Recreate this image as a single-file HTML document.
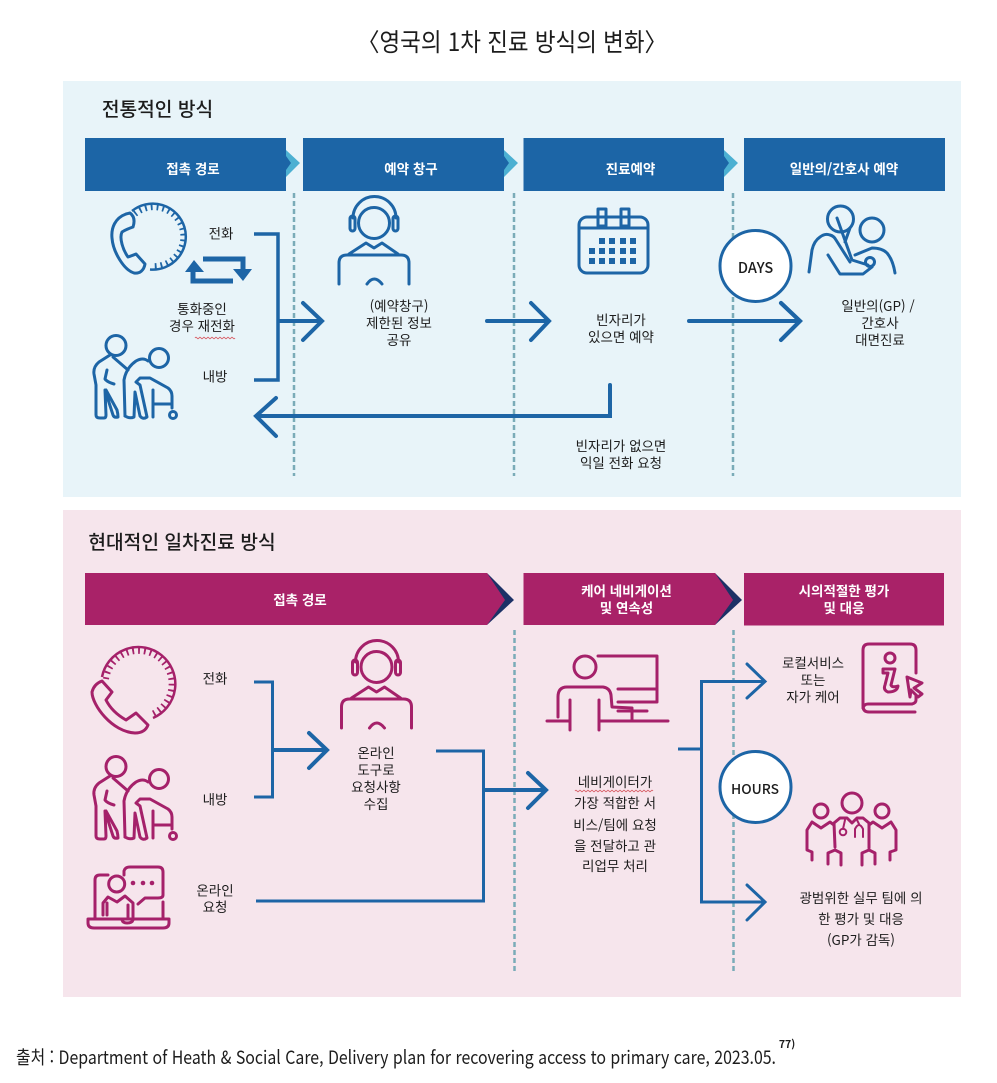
<!DOCTYPE html>
<html lang="ko"><head><meta charset="utf-8"><title>영국의 1차 진료 방식의 변화</title>
<style>
html,body{margin:0;padding:0;background:#fff}
svg{display:block}
text{font-family:"Noto Sans CJK KR","Liberation Sans",sans-serif;fill:#1c1c1c;font-size:13.5px;text-anchor:middle}
.h{fill:#fff;font-weight:700;font-size:13.5px}
.ib,.ip{fill:none;stroke-width:3;stroke-linecap:round;stroke-linejoin:round}
.ib{stroke:#1d65a6}.ip{stroke:#a5216a}
.c{fill:none;stroke:#1d65a6;stroke-linejoin:miter}
.d{stroke:#7aabb8;stroke-width:2.500;stroke-dasharray:5 3}
.t{font-size:19.200px;font-weight:500}
</style></head><body>
<svg width="997" height="1083" viewBox="0 0 997 1083" xmlns="http://www.w3.org/2000/svg">
<defs>
<g id="agent">
<circle cx="374" cy="223" r="15.500"/>
<path d="M353 218A21.500 21.500 0 0 1 396 218"/>
<rect x="350" y="216" width="5" height="15" rx="2.500"/><rect x="393" y="216" width="5" height="15" rx="2.500"/>
<path d="M349 254L366 243L374 248L382 243L398 254"/>
<path d="M339 284V263Q339 255 347 255H401Q409 255 409 263V284"/>
<path d="M367 284Q374 274 382 284"/>
</g>
<g id="elder">
<circle cx="116" cy="345.500" r="10"/><circle cx="159" cy="358" r="9.500"/>
<path d="M110 355L99 362Q93 367 94 374L96 385V415Q96 418 100 418H104Q106 418 106 415L105 390L113 415Q114 418 118 417Q118 414 117 410L106 390"/>
<path d="M107 370L105 379Q107 382 114 384M113 357L128 370"/>
<path d="M125 416L124 380Q126 368 136 361Q143 357 148 361"/>
<path d="M125 416Q130 419 134 417L135 392L140 416Q143 420 147 417L140 385L136 382L140 378H150L168 388Q172 391 172 396V408"/>
<path d="M153 390V417M153 404H172"/>
<circle cx="173" cy="415" r="3.500"/>
</g>
</defs>

<rect x="63" y="81" width="898" height="416" fill="#e8f4f9"/>
<rect x="63" y="510" width="898" height="487" fill="#f6e5ec"/>

<text x="512" y="51" style="font-size:25px" textLength="310" lengthAdjust="spacingAndGlyphs">〈영국의 1차 진료 방식의 변화〉</text>
<text class="t" x="157.500" y="116">전통적인 방식</text>
<text class="t" x="182" y="549">현대적인 일차진료 방식</text>

<!-- blue headers -->
<g fill="#4cb0d2"><path d="M286 150L300 163L286 177ZM504 150L518 163L504 177ZM724 150L738 163L724 177Z"/></g>
<g fill="#1c65a6">
<rect x="85" y="138" width="201" height="53"/><rect x="303" y="138" width="201" height="53"/><rect x="523.500" y="138" width="200.500" height="53"/><rect x="744" y="138" width="201" height="53"/>
<path d="M286 156L291 163L286 170ZM504 156L509 163L504 170ZM724 156L729 163L724 170Z"/>
</g>
<text class="h" x="193" y="174">접촉 경로</text><text class="h" x="411" y="174">예약 창구</text><text class="h" x="630.500" y="174">진료예약</text><text class="h" x="844" y="174">일반의/간호사 예약</text>

<!-- dashed -->
<path class="d" d="M294 193V476M514 193V476M733 193V476M514.500 630V971M733.500 630V971"/>

<!-- blue section connectors -->
<g class="c" stroke-width="3.500"><path d="M254 234H278V380H254"/></g>
<g class="c" stroke-width="4">
<path d="M278 321H320"/><path stroke-linecap="round" d="M303 303L322 321L303 340"/>
<path stroke-linecap="round" d="M487 321H547M531 303L549 321L531 340"/>
<path stroke-linecap="round" d="M689 321H798M781 303L800 321L781 340"/>
<path stroke-linecap="round" d="M610 385V416H258M276 398L256 416L276 436"/>
</g>
<!-- repeat arrows -->
<g fill="none" stroke="#1d65a6" stroke-width="5"><path d="M203 259H243V272M233 281H193V268"/></g>
<g fill="#1d65a6"><path d="M233 269L243 281L252 269ZM185 272L194 260L204 272Z"/></g>

<!-- blue icons -->
<g class="ib">
<path d="M132 211A33 33 0 1 1 150 269.500" stroke-width="2.500" stroke-linecap="butt"/>
<path d="M135 214A29.500 29.500 0 1 1 151 266" stroke-width="6" stroke-linecap="butt" stroke-dasharray="1.800 4"/>
<path d="M126 214C115 218 111 228 112 238C113 252 124 270 134 273C140 274 144 270 145 264L136 254Q131 256 128 257C123 250 119 238 122 232Q127 229 133 227C135 221 134 216 130 213Z"/>
<use href="#agent"/><use href="#elder"/>
<rect x="579" y="217" width="69" height="56" rx="8"/><path d="M579 228H648"/>
<rect x="598" y="209" width="8" height="17"/><rect x="621" y="209" width="8" height="17"/>
<circle cx="840.500" cy="219" r="13"/><circle cx="872" cy="230" r="12"/>
<path d="M809 272L812 250Q814 241 820 237Q825 233 830 235Q834 236 836 240L850 262"/>
<path d="M837 218L852 260L868 265M850 228L845 242"/>
<path d="M828 255L840 274H863L872 267"/>
<circle cx="870" cy="262" r="4.500"/>
<path d="M855 255L872 248Q882 248 887 253Q893 260 895 273"/>
</g>
<g fill="#1d65a6">
<path d="M599 238h6v6h-6zM609 238h6v6h-6zM620 238h6v6h-6zM630 238h6v6h-6zM589 248h6v6h-6zM599 248h6v6h-6zM609 248h6v6h-6zM620 248h6v6h-6zM630 248h6v6h-6zM589 258h6v6h-6zM599 258h6v6h-6zM609 258h6v6h-6zM620 258h6v6h-6zM630 258h6v6h-6z"/>
</g>

<!-- circles -->
<circle cx="755.500" cy="266" r="35.500" fill="#fff" stroke="#1d65a6" stroke-width="3"/>
<circle cx="755.500" cy="787" r="35.500" fill="#fff" stroke="#1d65a6" stroke-width="3"/>
<text x="755.500" y="273" style="font-size:14.500px;font-weight:500">DAYS</text>
<text x="755" y="794" style="font-size:13.800px;font-weight:500">HOURS</text>
<!-- arrow stays above circle -->
<path class="c" stroke-width="4" stroke-linecap="round" d="M781 303L800 321L781 340"/>

<!-- blue text -->
<text x="221" y="238.500">전화</text>
<text x="202" y="314">통화중인</text><text x="202" y="331">경우 재전화</text>
<path d="M195 338q1-1.500 2 0t2 0t2 0t2 0t2 0t2 0t2 0t2 0t2 0t2 0t2 0t2 0t2 0t2 0t2 0t2 0t2 0t2 0t2 0t2 0" fill="none" stroke="#d9636b" stroke-width=".9"/>
<text x="215" y="381.500">내방</text>
<text x="399" y="311">(예약창구)</text><text x="399" y="328">제한된 정보</text><text x="399" y="345">공유</text>
<text x="621" y="325">빈자리가</text><text x="621" y="342">있으면 예약</text>
<text x="621" y="451">빈자리가 없으면</text><text x="621" y="468">익일 전화 요청</text>
<text x="878" y="311">일반의(GP) /</text><text x="880" y="328">간호사</text><text x="880" y="345">대면진료</text>

<!-- pink headers -->
<g fill="#1c3166">
<path d="M487 573L514 600L487 625L496 600Z"/><path d="M715 573L742 600L715 625L724 600Z"/>
</g>
<g fill="#a92268">
<path d="M85 573H487L505 600L487 625H85Z"/>
<path d="M523.500 573H715L733 600L715 625H523.500Z"/>
<rect x="744" y="573" width="200" height="52.500"/>
</g>
<text class="h" x="300" y="605">접촉 경로</text>
<text class="h" x="626.500" y="596">케어 네비게이션</text><text class="h" x="626.500" y="613">및 연속성</text>
<text class="h" x="844" y="596">시의적절한 평가</text><text class="h" x="844" y="613">및 대응</text>

<!-- pink section connectors -->
<g class="c" stroke-width="3">
<path d="M254 682H272.500V797H254"/>
<path d="M436 751H483.500V901H256"/>
<path d="M678 749H701.500"/>
<path d="M763 681.500H701.500V902H763"/>
<path stroke-linecap="round" d="M747 664L765 681.500L747 698M747 885L765 902L747 920"/>
</g>
<g class="c" stroke-width="4">
<path d="M272 750H325"/><path stroke-linecap="round" d="M309 733L327 750L309 768"/>
<path d="M484 790H545"/><path stroke-linecap="round" d="M528 773L546 790L528 808"/>
</g>

<!-- pink icons -->
<g class="ip" stroke-width="2.800">
<path d="M102 677A37 37 0 1 1 153 718" stroke-width="2.500" stroke-linecap="butt"/>
<path d="M106 679A33 33 0 1 1 152 714" stroke-width="6" stroke-linecap="butt" stroke-dasharray="1.800 4"/>
<path d="M102 681Q94 684 92 692C92 705 112 732 135 733Q145 733 148 725L136 713L126 720Q112 712 106 700L112 692Z"/>
<use href="#agent" transform="translate(2.500 444)"/>
<use href="#elder" transform="translate(0 421)"/>
<!-- online -->
<path d="M88 919H169V923Q169 928 163 928H94Q88 928 88 923Z"/>
<path d="M95 918V880Q95 875 100 875H108"/>
<circle cx="116.700" cy="884" r="8"/>
<path d="M103 915V903L108 897L117 902L125 896L133 903V917M107 903V915M128 905V917M122 920Q123 923 127 923Q132 923 133 920"/>
<path d="M124 875V871Q125 867 130 867H158Q163 867 163 872V895Q163 898 158 898H145L138 904"/>
<path d="M163 902V918"/>
<!-- navigator -->
<circle cx="585" cy="667" r="11"/>
<path d="M598 656H657V702H618M618 689H657"/>
<path d="M558 717V697Q558 687 567 687H603Q610 688 611 695L612 707L632 708V720M618 711H647"/>
<path d="M547 721H570M600 721H668M570 700V730M599 700V730"/>
<!-- info -->
<path d="M916 673V650Q916 644 910 644H869Q863 644 863 650V706Q863 712 869 712H915"/>
<path d="M863 708Q864 704 868 704H912Q916 703 916 700V695"/>
<circle cx="890" cy="658" r="5"/>
<path d="M883 669H895L891 685Q892 688 898 686Q897 692 888 692Q883 690 885 685L888 673H883Z"/>
<path d="M907 677L922 683L914 688L922 694L918 697L911 690L910 697Z"/>
<!-- team -->
<circle cx="852" cy="803" r="10"/><circle cx="821" cy="811" r="7"/><circle cx="882" cy="811" r="7"/>
<path d="M835 847L834 823L840 818H847L852 823L857 818H863L869 823V848"/>
<path d="M828 864V853L835 850L841 853V865M862 865V853L869 850L875 853V864"/>
<path d="M812 860V852L807 850V830L812 822L821 828L830 822L834 825"/>
<path d="M890 860V852L896 850V830L891 822L882 828L873 822L869 825"/>
<circle cx="843" cy="832" r="3.300" stroke-width="2"/>
<path d="M845 820L843 829M855 837V829Q859 821 863 829V837M857 820L859 824" stroke-width="2"/>
</g>
<g fill="#a5216a"><circle cx="133" cy="883" r="2.300"/><circle cx="143" cy="883" r="2.300"/><circle cx="152" cy="883" r="2.300"/></g>

<!-- pink text -->
<text x="215" y="683.500">전화</text>
<text x="215" y="804.500">내방</text>
<text x="215" y="895.500">온라인</text><text x="215" y="912">요청</text>
<text x="376" y="758">온라인</text><text x="376" y="775">도구로</text><text x="376" y="792">요청사항</text><text x="376" y="809">수집</text>
<text x="615" y="787">네비게이터가</text>
<path d="M575 791q1-1.500 2 0t2 0t2 0t2 0t2 0t2 0t2 0t2 0t2 0t2 0t2 0t2 0t2 0t2 0t2 0t2 0t2 0t2 0t2 0t2 0t2 0t2 0t2 0t2 0t2 0t2 0t2 0t2 0t2 0t2 0t2 0t2 0t2 0t2 0t2 0t2 0t2 0t2 0t2 0" fill="none" stroke="#d9636b" stroke-width=".9"/>
<text x="615" y="808">가장 적합한 서</text><text x="615" y="830">비스/팀에 요청</text><text x="615" y="851">을 전달하고 관</text><text x="615" y="871">리업무 처리</text>
<text x="813" y="668">로컬서비스</text><text x="813" y="685">또는</text><text x="813" y="702">자가 케어</text>
<text x="861" y="903">광범위한 실무 팀에 의</text><text x="861" y="924">한 평가 및 대응</text><text x="861" y="945">(GP가 감독)</text>

<!-- footer -->
<text x="396" y="1064" style="font-size:18.500px" textLength="760" lengthAdjust="spacingAndGlyphs">출처 : Department of Heath &amp; Social Care, Delivery plan for recovering access to primary care, 2023.05.</text>
<text x="787" y="1048" style="font-size:10.500px;font-weight:700">77)</text>
</svg>
</body></html>
